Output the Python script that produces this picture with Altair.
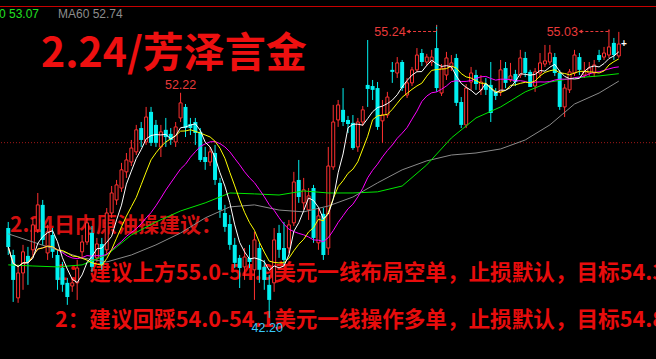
import altair as alt
import pandas as pd

# ---------------- data ----------------
opens = [46.20, 45.00, 43.09, 44.20, 44.96, 45.23, 46.12, 47.23, 45.09, 45.89,
         45.00, 44.42, 43.76, 43.62, 43.76, 45.14, 45.58, 45.98, 44.87, 45.49,
         45.23, 46.87, 47.45, 47.98, 48.70, 49.14, 49.59, 50.65, 50.03, 51.37,
         50.79, 49.81, 50.57, 50.39, 50.03, 51.10, 51.59, 50.83, 50.92, 50.48,
         49.36, 49.14, 49.54, 48.21, 46.87, 46.38, 45.45, 44.87, 44.47, 44.87,
         44.34, 45.31, 44.47, 43.67, 43.76, 45.98, 45.31, 45.31, 46.43, 48.34,
         47.32, 47.01, 47.98, 45.54, 46.83, 45.31, 48.92, 51.01, 51.46, 51.01,
         50.88, 49.81, 50.92, 52.57, 52.52, 52.43, 50.97, 51.23, 53.24, 53.10,
         53.59, 52.12, 52.66, 53.24, 53.99, 53.59, 53.59, 54.21, 52.21, 53.01,
         53.37, 53.77, 51.81, 50.79, 52.70, 53.01, 52.35, 52.61, 52.57, 52.26,
         52.26, 53.32, 52.79, 53.06, 53.01, 53.77, 53.15, 52.52, 53.10, 53.50,
         53.59, 53.81, 53.10, 51.59, 52.35, 53.10, 53.81, 53.01, 53.10, 53.10,
         53.90, 53.81, 53.90, 54.44, 53.86]
highs = [46.47, 45.23, 44.56, 45.45, 45.36, 46.65, 47.76, 47.45, 46.34, 46.20,
         45.23, 44.69, 43.98, 43.98, 44.78, 45.89, 46.65, 46.29, 45.76, 45.76,
         47.09, 48.07, 48.34, 49.10, 49.54, 50.12, 50.79, 50.92, 51.59, 51.59,
         51.01, 50.79, 51.10, 50.65, 50.92, 52.22, 51.72, 51.10, 51.10, 50.65,
         49.81, 49.81, 49.90, 48.43, 47.23, 46.78, 45.76, 45.00, 45.31, 45.45,
         46.03, 45.54, 44.78, 44.11, 46.20, 46.34, 46.47, 46.56, 48.70, 49.23,
         48.43, 47.98, 48.12, 47.09, 47.09, 49.81, 51.68, 51.90, 52.43, 51.19,
         51.23, 51.10, 51.63, 54.57, 52.79, 52.70, 51.90, 52.26, 53.59, 53.81,
         53.68, 52.88, 53.37, 54.21, 54.17, 53.95, 54.13, 55.24, 53.50, 54.04,
         53.90, 53.95, 52.03, 52.61, 53.37, 53.24, 53.01, 52.88, 53.59, 52.43,
         53.68, 53.59, 53.55, 53.24, 54.13, 54.04, 53.24, 53.32, 53.99, 54.35,
         54.35, 53.99, 53.24, 52.61, 53.28, 54.13, 53.99, 53.59, 53.59, 53.68,
         54.13, 54.26, 55.03, 54.66, 54.93]
lows = [45.00, 42.91, 42.87, 43.45, 43.67, 44.96, 45.98, 45.45, 44.78, 44.87,
        43.45, 43.36, 42.78, 43.36, 43.00, 44.87, 45.45, 44.25, 44.69, 44.34,
        45.00, 46.65, 47.23, 47.81, 48.43, 48.96, 49.45, 49.81, 49.90, 49.85,
        49.81, 49.36, 49.81, 49.90, 49.81, 50.92, 50.25, 50.34, 49.90, 49.14,
        48.79, 48.96, 48.12, 46.65, 46.03, 45.23, 44.42, 43.53, 43.89, 44.42,
        43.00, 43.76, 43.45, 42.20, 43.36, 44.87, 44.56, 45.09, 46.29, 47.32,
        47.01, 46.56, 45.54, 45.23, 44.78, 45.00, 48.79, 50.70, 50.74, 50.43,
        49.68, 49.59, 50.74, 51.59, 51.90, 50.57, 49.99, 51.10, 52.66, 52.88,
        52.30, 51.99, 52.52, 53.15, 53.41, 53.41, 53.41, 52.26, 52.08, 52.79,
        53.19, 51.63, 50.65, 50.65, 52.35, 52.35, 52.12, 52.12, 50.92, 51.90,
        52.08, 52.43, 52.70, 52.52, 52.88, 52.92, 52.48, 52.26, 52.88, 53.37,
        53.46, 52.97, 51.46, 51.14, 52.21, 52.97, 53.01, 52.88, 52.97, 52.92,
        53.59, 53.68, 53.77, 53.68, 53.77]
closes = [45.36, 43.89, 44.20, 45.14, 44.69, 46.34, 47.23, 45.67, 46.03, 45.14,
          43.89, 43.67, 43.13, 43.76, 44.42, 45.58, 46.43, 44.47, 45.49, 44.56,
          46.87, 47.76, 48.12, 48.79, 49.23, 49.76, 50.57, 50.12, 51.14, 49.99,
          49.99, 50.48, 50.25, 50.12, 50.70, 51.77, 50.65, 50.65, 50.43, 49.23,
          49.14, 49.59, 48.34, 47.01, 46.25, 45.45, 44.65, 44.42, 44.91, 44.69,
          45.67, 44.34, 43.89, 43.00, 45.67, 45.23, 44.78, 46.34, 48.25, 47.58,
          47.90, 47.63, 45.76, 46.74, 45.00, 48.96, 50.92, 51.68, 50.92, 50.83,
          49.76, 50.92, 51.46, 52.39, 52.35, 50.70, 51.23, 52.03, 53.15, 53.55,
          52.43, 52.66, 53.24, 53.90, 53.59, 53.81, 53.81, 52.43, 53.32, 53.77,
          53.55, 51.77, 50.79, 52.43, 53.10, 52.61, 52.70, 52.35, 51.32, 52.08,
          53.24, 52.66, 52.97, 52.70, 53.77, 53.10, 52.48, 53.15, 53.55, 53.64,
          53.99, 53.10, 51.59, 52.43, 53.15, 53.90, 53.24, 53.15, 53.32, 53.46,
          53.68, 53.99, 54.26, 53.90, 54.39]

# slow averages at every 5th bar
ma_bars = [0, 5, 10, 15, 20, 25, 30, 35, 40, 45, 50, 55, 60, 65, 70, 75, 80,
           85, 90, 95, 100, 105, 110, 115, 120, 124]
ma30_vals = [44.56, 44.51, 44.47, 44.56, 45.00, 45.89, 46.47, 46.96, 47.32,
             47.76, 47.72, 47.67, 47.85, 47.76, 47.76, 47.81, 48.07, 49.01,
             50.21, 51.10, 51.59, 52.26, 52.70, 52.88, 52.97, 53.07]
ma60_vals = [45.94, 45.58, 45.22, 44.87, 44.69, 45.00, 45.45, 45.98, 46.65,
             47.14, 47.23, 47.00, 46.92, 47.18, 47.58, 48.21, 48.79, 49.19,
             49.45, 49.54, 49.72, 50.12, 50.79, 51.72, 52.21, 52.74]

ref_level = [50.0]

peak_bars = [87, 122]
peak_vals = [55.24, 55.03]
peak_text = ["55.24", "55.03"]
high_bar = [35]
high_val = [52.22]
high_text = ["52.22"]
low_bar = [53]
low_val = [42.20]
low_text = ["42.20"]

title_text = ["2.24/芳泽言金"]
head_text = ["2.24日内原油操建议："]
line1_text = ["1：建议上方55.0-54.9美元一线布局空单，止损默认，目标54.3"]
line2_text = ["2：建议回踩54.0-54.1美元一线操作多单，止损默认，目标54.8"]
ma30_label = ["MA30 53.07"]
ma60_label = ["MA60 52.74"]

# ---------------- styles ----------------
RED = "#ff3030"
CYAN = "#00f0f0"
TXT_RED = "#e80c0c"
CJK = "Noto Sans CJK SC"

W, H = 656, 359
xs = alt.Scale(domain=[-0.66, 130.54], nice=False, zero=False)
ys = alt.Scale(domain=[40.37, 56.35], nice=False, zero=False)


def X(f):
    return alt.X(f, type="quantitative", scale=xs, axis=None)


def Y(f):
    return alt.Y(f, type="quantitative", scale=ys, axis=None)


df = pd.DataFrame({"i": list(range(len(opens))), "open": opens, "high": highs,
                   "low": lows, "close": closes})
df["dir"] = ["up" if c >= o else "down" for o, c in zip(opens, closes)]
base = alt.Chart(df)

slow = pd.DataFrame({"i": ma_bars, "ma30": ma30_vals, "ma60": ma60_vals})


def text_layer(txt, x, y, size, color, weight="bold", font=CJK, align="left"):
    return alt.Chart(pd.DataFrame({"t": txt})).mark_text(
        align=align, baseline="middle", font=font, fontSize=size,
        fontWeight=weight, color=color
    ).encode(x=alt.value(x), y=alt.value(y), text="t:N")


title = text_layer(title_text, 41, 55, 41, "#ee1010")
head = text_layer(head_text, 10, 226, 21, "#d41010")
line1 = text_layer(line1_text, 55, 274, 21.6, TXT_RED)
line2 = text_layer(line2_text, 55, 321, 21.6, TXT_RED)
lab30 = text_layer(ma30_label, 39, 14, 12, "#20e020", weight="normal",
                   font="Liberation Sans", align="right")
lab60 = text_layer(ma60_label, 58, 14, 12, "#8c8c8c", weight="normal",
                   font="Liberation Sans")

top_line = alt.Chart(pd.DataFrame({"v": [0]})).mark_rule(
    color="#c80000", strokeWidth=1).encode(y=alt.value(6.5))
ref_line = alt.Chart(pd.DataFrame({"v": ref_level})).mark_rule(
    color="#a01818", strokeWidth=1, strokeDash=[1, 2]).encode(y=Y("v"))

color_dir = alt.Color("dir:N", scale=alt.Scale(domain=["up", "down"],
                                               range=[RED, CYAN]), legend=None)
wicks = base.mark_rule(strokeWidth=1).encode(
    x=X("i"), y=Y("low"), y2="high", color=color_dir)
up_bodies = base.transform_filter("datum.close >= datum.open").mark_bar(
    size=3, fill="black", stroke=RED, strokeWidth=1).encode(
    x=X("i"), y=Y("open"), y2="close")
down_bodies = base.transform_filter("datum.close < datum.open").mark_bar(
    size=4, color=CYAN).encode(x=X("i"), y=Y("open"), y2="close")


def ma_line(n, color):
    name = "ma%d" % n
    return base.transform_window(
        **{name: "mean(close)"}, frame=[-(n - 1), 0], sort=[alt.SortField("i")]
    ).mark_line(color=color, strokeWidth=1).encode(x=X("i"), y=Y(name))


ma5 = ma_line(5, "#ffffff")
ma10 = ma_line(10, "#ffff00")
ma20 = ma_line(20, "#ff00ff")
ma30 = alt.Chart(slow).mark_line(color="#00e800", strokeWidth=1).encode(
    x=X("i"), y=Y("ma30"))
ma60 = alt.Chart(slow).mark_line(color="#8a8a8a", strokeWidth=1).encode(
    x=X("i"), y=Y("ma60"))

# price annotations
peaks = alt.Chart(pd.DataFrame({"i": peak_bars, "v": peak_vals, "t": peak_text})
                  ).transform_calculate(start="datum.i - 5.8")
peak_lbl = peaks.mark_text(align="right", baseline="middle", font="Liberation Sans",
                           fontSize=12.5, color="#e83a3a", dx=-31).encode(
    x=X("i"), y=alt.value(31.5), text="t:N")
peak_arrow = peaks.mark_rule(color="#e83a3a", strokeWidth=1, strokeDash=[3, 2]).encode(
    x=X("start"), x2="i", y=alt.value(31.5))
peak_head = peaks.mark_point(shape="triangle-left", filled=True, size=18,
                             color="#e83a3a", opacity=1).encode(
    x=X("start"), y=alt.value(31.5))
peak_drop = peaks.mark_rule(color="#e83a3a", strokeWidth=1, strokeDash=[2, 2]).encode(
    x=X("i"), y=Y("v"), y2=alt.value(31.5))

hi_lbl = alt.Chart(pd.DataFrame({"i": high_bar, "v": high_val, "t": high_text})
                   ).mark_text(baseline="middle", font="Liberation Sans", fontSize=12.5,
                               color="#e83a3a", dy=-8).encode(
    x=X("i"), y=Y("v"), text="t:N")
lo_lbl = alt.Chart(pd.DataFrame({"i": low_bar, "v": low_val, "t": low_text})
                   ).mark_text(baseline="middle", font="Liberation Sans", fontSize=12.5,
                               color="#38c8f8", dy=10, dx=-2).encode(
    x=X("i"), y=Y("v"), text="t:N")
last_mark = base.transform_filter("datum.i == %d" % (len(opens) - 1)).mark_text(
    text="+", color="#ffffff", fontSize=10, fontWeight="bold", dx=5,
    baseline="middle").encode(x=X("i"), y=Y("close"))

chart = alt.layer(
    title, head, line1, line2, lab30, lab60, top_line, ref_line,
    wicks, up_bodies, down_bodies,
    ma60, ma30, ma20, ma10, ma5,
    peak_arrow, peak_drop, peak_head, peak_lbl, hi_lbl, lo_lbl, last_mark
).properties(
    width=W, height=H, background="black", padding=0,
    autosize=alt.AutoSizeParams(type="none")
).configure_view(strokeWidth=0)

chart.save("out.html", embed_options={"renderer": "svg", "actions": False})
